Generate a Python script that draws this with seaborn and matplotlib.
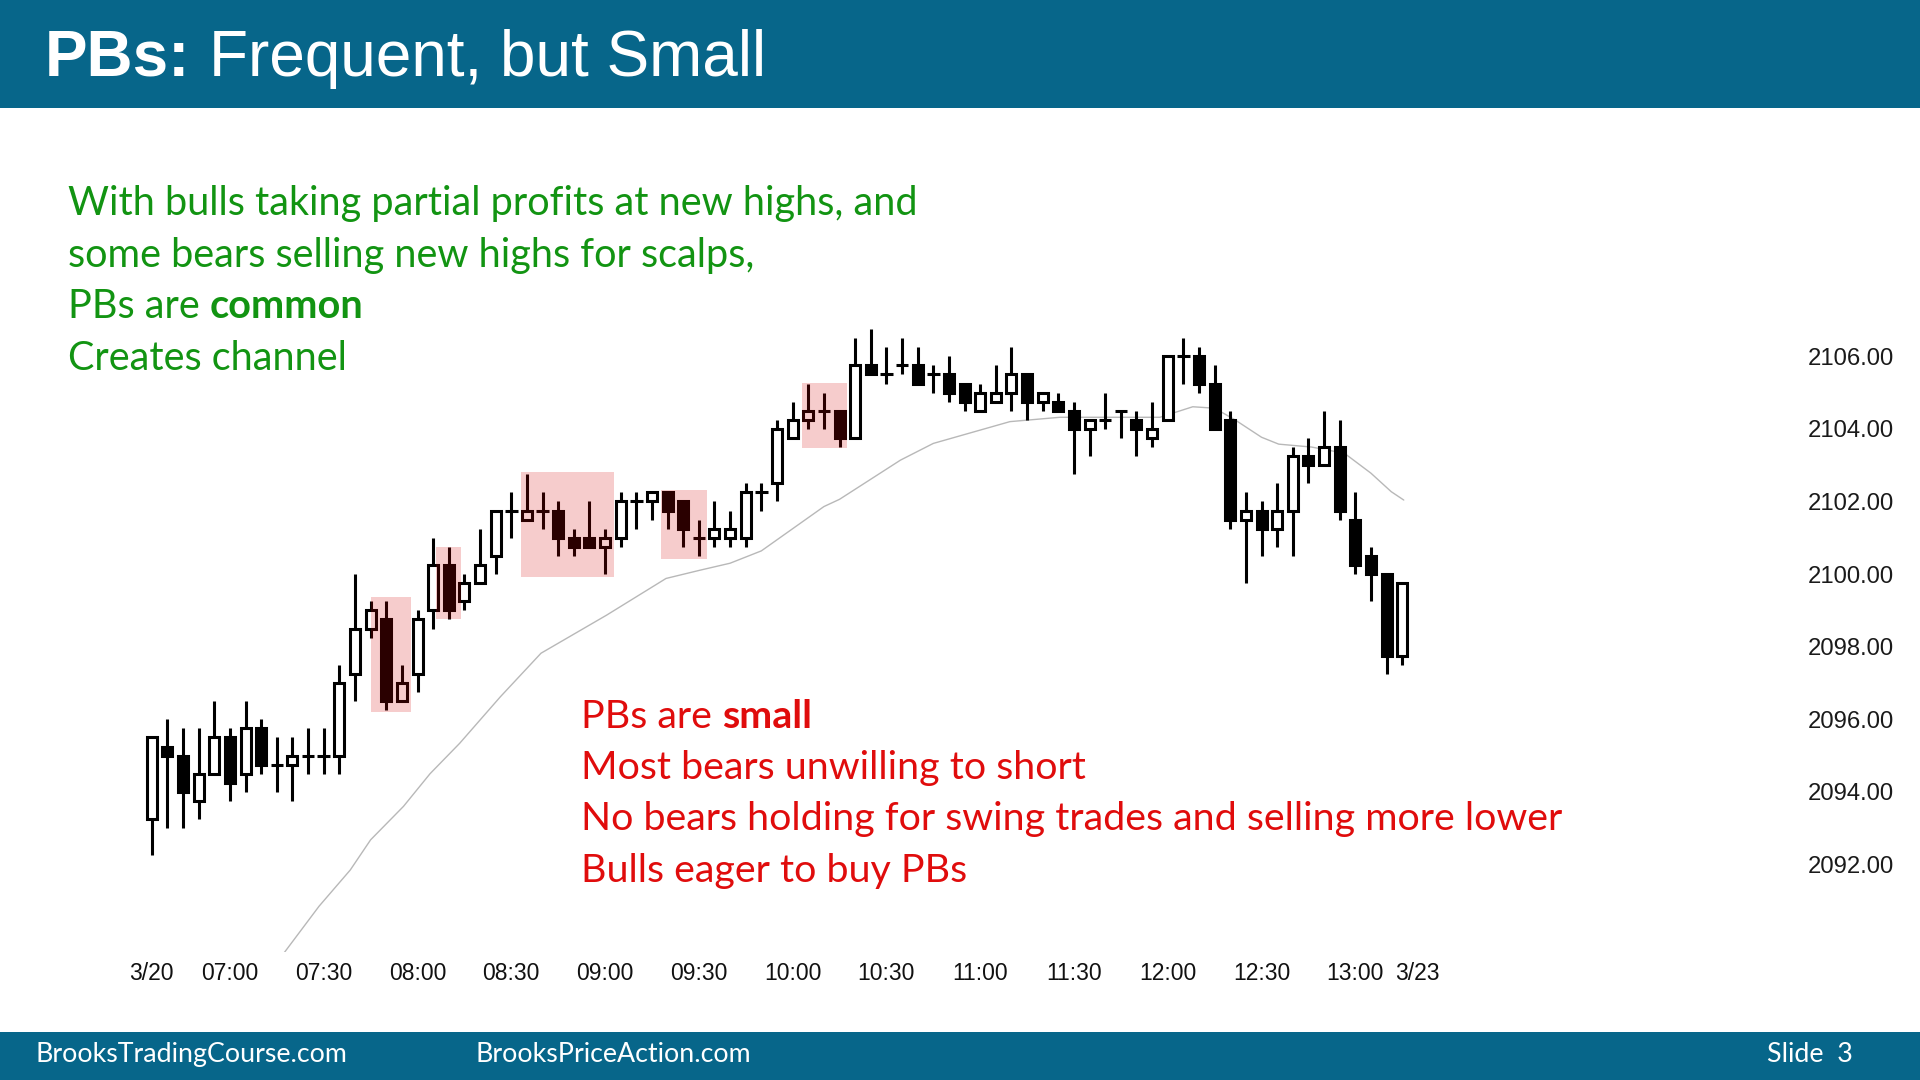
import matplotlib
matplotlib.use("Agg")
import matplotlib.pyplot as plt
from matplotlib.patches import Rectangle
import seaborn as sns
import numpy as np

# ---------------- data ----------------
opens = [2093.25, 2095.25, 2095.0, 2093.75, 2094.5, 2095.5, 2094.5, 2095.75, 2094.75, 2094.75,
         2095.0, 2095.0, 2095.0, 2097.25, 2098.5, 2098.75, 2096.5, 2097.25, 2099.0, 2100.25,
         2099.25, 2099.75, 2100.5, 2101.75, 2101.5, 2101.75, 2101.75, 2101.0, 2101.0, 2100.75,
         2101.0, 2102.0, 2102.0, 2102.25, 2102.0, 2101.0, 2101.0, 2101.0, 2101.0, 2102.25,
         2102.5, 2103.75, 2104.25, 2104.5, 2104.5, 2103.75, 2105.75, 2105.5, 2105.75, 2105.75,
         2105.5, 2105.5, 2105.25, 2104.5, 2104.75, 2105.0, 2105.5, 2104.75, 2104.75, 2104.5,
         2104.0, 2104.25, 2104.5, 2104.25, 2103.75, 2104.25, 2106.0, 2106.0, 2105.25, 2104.25,
         2101.5, 2101.75, 2101.25, 2101.75, 2103.25, 2103.0, 2103.5, 2101.5, 2100.5, 2100.0,
         2097.75]
highs = [2095.5, 2096.0, 2095.75, 2095.75, 2096.5, 2095.75, 2096.5, 2096.0, 2095.5, 2095.5,
         2095.75, 2095.75, 2097.5, 2100.0, 2099.25, 2099.25, 2097.5, 2099.0, 2101.0, 2100.75,
         2100.0, 2101.25, 2101.75, 2102.25, 2102.75, 2102.25, 2102.0, 2101.25, 2102.0, 2101.25,
         2102.25, 2102.25, 2102.25, 2102.25, 2102.0, 2101.5, 2102.0, 2101.75, 2102.5, 2102.5,
         2104.25, 2104.75, 2105.25, 2105.0, 2104.5, 2106.5, 2106.75, 2106.25, 2106.5, 2106.25,
         2105.75, 2106.0, 2105.25, 2105.25, 2105.75, 2106.25, 2105.5, 2105.0, 2105.0, 2104.75,
         2104.25, 2105.0, 2104.5, 2104.5, 2104.75, 2106.0, 2106.5, 2106.25, 2105.75, 2104.5,
         2102.25, 2102.0, 2102.5, 2103.5, 2103.75, 2104.5, 2104.25, 2102.25, 2100.75, 2100.0,
         2099.75]
lows = [2092.25, 2093.0, 2093.0, 2093.25, 2094.5, 2093.75, 2094.0, 2094.5, 2094.0, 2093.75,
        2094.5, 2094.5, 2094.5, 2096.5, 2098.25, 2096.25, 2096.5, 2096.75, 2098.5, 2098.75,
        2099.0, 2099.75, 2100.0, 2101.0, 2101.5, 2101.25, 2100.5, 2100.5, 2100.75, 2100.0,
        2100.75, 2101.25, 2101.5, 2101.25, 2100.75, 2100.5, 2100.75, 2100.75, 2100.75, 2101.75,
        2102.0, 2103.75, 2104.0, 2104.0, 2103.5, 2103.75, 2105.5, 2105.25, 2105.5, 2105.25,
        2105.0, 2104.75, 2104.5, 2104.5, 2104.75, 2104.5, 2104.25, 2104.5, 2104.5, 2102.75,
        2103.25, 2104.0, 2103.75, 2103.25, 2103.5, 2104.25, 2105.25, 2105.0, 2104.0, 2101.25,
        2099.75, 2100.5, 2100.75, 2100.5, 2102.5, 2103.0, 2101.5, 2100.0, 2099.25, 2097.25,
        2097.5]
closes = [2095.5, 2095.0, 2094.0, 2094.5, 2095.5, 2094.25, 2095.75, 2094.75, 2094.75, 2095.0,
          2095.0, 2095.0, 2097.0, 2098.5, 2099.0, 2096.5, 2097.0, 2098.75, 2100.25, 2099.0,
          2099.75, 2100.25, 2101.75, 2101.75, 2101.75, 2101.75, 2101.0, 2100.75, 2100.75, 2101.0,
          2102.0, 2102.0, 2102.25, 2101.75, 2101.25, 2101.0, 2101.25, 2101.25, 2102.25, 2102.25,
          2104.0, 2104.25, 2104.5, 2104.5, 2103.75, 2105.75, 2105.5, 2105.5, 2105.75, 2105.25,
          2105.5, 2105.0, 2104.75, 2105.0, 2105.0, 2105.5, 2104.75, 2105.0, 2104.5, 2104.0,
          2104.25, 2104.25, 2104.5, 2104.0, 2104.0, 2106.0, 2106.0, 2105.25, 2104.0, 2101.5,
          2101.75, 2101.25, 2101.75, 2103.25, 2103.0, 2103.5, 2101.75, 2100.25, 2100.0, 2097.75,
          2099.75]

# moving average, read as (bar position, price) points
ema_bar = [8.0, 10.7, 12.7, 14.0, 16.1, 17.8, 19.7, 22.3, 24.9, 29.1, 32.9, 35.1, 37.0, 39.0,
           43.0, 44.0, 47.9, 50.0, 54.9, 58.1, 64.5, 66.6, 68.0, 69.3, 71.0, 72.1, 74.2, 76.3,
           78.0, 79.3, 80.1]
ema_val = [2089.3, 2090.85, 2091.85, 2092.68, 2093.6, 2094.5, 2095.34, 2096.62, 2097.82,
           2098.87, 2099.88, 2100.11, 2100.30, 2100.64, 2101.86, 2102.06, 2103.14, 2103.6,
           2104.2, 2104.32, 2104.32, 2104.61, 2104.57, 2104.25, 2103.77, 2103.58, 2103.5,
           2103.33, 2102.78, 2102.27, 2102.04]

# highlighted pullbacks: (first bar, last bar, low price, high price)
pb_x0 = [14.0, 18.2, 23.6, 32.6, 41.6]
pb_x1 = [16.6, 19.8, 29.6, 35.5, 44.5]
pb_lo = [2096.2, 2098.75, 2099.93, 2100.41, 2103.47]
pb_hi = [2099.38, 2100.75, 2102.8, 2102.32, 2105.26]

xtick_pos = [0, 5, 11, 17, 23, 29, 35, 41, 47, 53, 59, 65, 71, 77, 81]
xtick_lab = ["3/20", "07:00", "07:30", "08:00", "08:30", "09:00", "09:30", "10:00",
             "10:30", "11:00", "11:30", "12:00", "12:30", "13:00", "3/23"]
ytick_vals = [2092, 2094, 2096, 2098, 2100, 2102, 2104, 2106]

title_bold = "PBs:"
title_rest = "Frequent, but Small"
green_lines = ["With bulls taking partial profits at new highs, and",
               "some bears selling new highs for scalps,",
               ("PBs are", "common"),
               "Creates channel"]
red_lines = [("PBs are", "small"),
             "Most bears unwilling to short",
             "No bears holding for swing trades and selling more lower",
             "Bulls eager to buy PBs"]
footer_left = "BrooksTradingCourse.com"
footer_mid = "BrooksPriceAction.com"
footer_right = "Slide  3"

# ---------------- styling ----------------
sns.set_theme(style="white")
plt.rcParams["font.family"] = ["Liberation Sans", "DejaVu Sans"]

W, H = 1920, 1080
fig = plt.figure(figsize=(19.2, 10.8), dpi=100)
fig.patch.set_facecolor("white")
renderer = fig.canvas.get_renderer()

def fx(px):
    return px / W

def fy(py):
    return 1 - py / H

BAND = "#07668a"
GREEN = "#129412"
RED = "#e00c0c"
CAL = ["Lato", "DejaVu Sans"]

# header / footer bands
fig.add_artist(Rectangle((0, fy(108)), 1, 108 / H, transform=fig.transFigure,
                         facecolor=BAND, edgecolor="none", zorder=0))
fig.add_artist(Rectangle((0, 0), 1, (H - 1032) / H, transform=fig.transFigure,
                         facecolor=BAND, edgecolor="none", zorder=0))

# ---------------- chart axes ----------------
X0PX, DXPX = 151.8, 15.63     # pixel of bar 0, pixels per bar
Y0PX, DYPX = 356.3, 36.3      # pixel of price 2106, pixels per point
AX_L, AX_R, AX_T, AX_B = 0, 1800, 110, 952
ax = fig.add_axes([fx(AX_L), fy(AX_B), (AX_R - AX_L) / W, (AX_B - AX_T) / H])
ax.patch.set_alpha(0)
ax.set_xlim((AX_L - X0PX) / DXPX, (AX_R - X0PX) / DXPX)
ax.set_ylim(2106 - (AX_B - Y0PX) / DYPX, 2106 + (Y0PX - AX_T) / DYPX)
for s in ax.spines.values():
    s.set_visible(False)

n = len(opens)
idx = np.arange(n)
o = np.array(opens); h = np.array(highs); l = np.array(lows); c = np.array(closes)

LW = 2.2
# moving average
sns.lineplot(x=ema_bar, y=ema_val, ax=ax, color="#b8b8b8", linewidth=1.0, zorder=1,
             estimator=None, sort=False)

# wicks
ax.vlines(idx, l, h, color="black", linewidth=LW, zorder=2)
# bodies
body_w = 0.64
bull = c > o
bear = c < o
doji = c == o
ax.bar(idx[bull], (c - o)[bull], bottom=o[bull], width=body_w, facecolor="white",
       edgecolor="black", linewidth=LW, zorder=3)
ax.bar(idx[bear], (o - c)[bear], bottom=c[bear], width=body_w, facecolor="black",
       edgecolor="black", linewidth=LW, zorder=3)
ax.hlines(o[doji], idx[doji] - body_w / 2 - 0.08, idx[doji] + body_w / 2 + 0.08,
          color="black", linewidth=LW, zorder=3)

# pullback highlights
for a0, a1, lo, hi in zip(pb_x0, pb_x1, pb_lo, pb_hi):
    ax.add_patch(Rectangle((a0, lo), a1 - a0, hi - lo, facecolor=(0.84, 0.0, 0.0),
                           alpha=0.2, edgecolor="none", zorder=4))

ax.set_xticks(xtick_pos)
ax.set_xticklabels(xtick_lab)
ax.set_yticks(ytick_vals)
ax.set_yticklabels([f"{v:.2f}" for v in ytick_vals])
ax.yaxis.tick_right()
ax.tick_params(axis="both", length=0)
ax.tick_params(axis="x", pad=7.5, labelcolor="#111111", labelsize=16.5)
ax.tick_params(axis="y", pad=5.5, labelcolor="#1a1a1a", labelsize=17.2)
ax.grid(False)
ax.set_xlabel("")
ax.set_ylabel("")

# ---------------- text helpers ----------------
def width_of(t):
    return t.get_window_extent(renderer=renderer).width

def fit_size(s, target, **kw):
    t = fig.text(0, 0, s, fontsize=20, **kw)
    w = width_of(t)
    t.remove()
    return 20 * target / w

def space_w(size, **kw):
    a = fig.text(0, 0, "n n", fontsize=size, **kw)
    b = fig.text(0, 0, "nn", fontsize=size, **kw)
    w = width_of(a) - width_of(b)
    a.remove(); b.remove()
    return w

def put_line(x, y, item, size, color, family):
    if isinstance(item, tuple):
        reg, bold = item
        t = fig.text(fx(x), fy(y), reg, fontsize=size, color=color, family=family,
                     va="baseline", ha="left")
        w = width_of(t) + space_w(size, family=family)
        fig.text(fx(x + w), fy(y), bold, fontsize=size, color=color, family=family,
                 fontweight="bold", va="baseline", ha="left")
    else:
        fig.text(fx(x), fy(y), item, fontsize=size, color=color, family=family,
                 va="baseline", ha="left")

# title
ts = fit_size(title_rest, 556, family=["Liberation Sans"])
fig.text(fx(45), fy(76), title_bold, fontsize=ts, color="white", fontweight="bold",
         family=["Liberation Sans"], va="baseline")
fig.text(fx(209), fy(76), title_rest, fontsize=ts, color="white",
         family=["Liberation Sans"], va="baseline")

# green block
gs = fit_size(green_lines[0], 852, family=CAL)
for k, item in enumerate(green_lines):
    put_line(68, 215.5 + 51.4 * k, item, gs, GREEN, CAL)

# red block
rs = fit_size(red_lines[2], 985, family=CAL)
for k, item in enumerate(red_lines):
    put_line(581, 727.5 + 51.4 * k, item, rs, RED, CAL)

# footer
fs = fit_size(footer_left, 311, family=CAL)
fig.text(fx(36), fy(1062), footer_left, fontsize=fs, color="white", family=CAL, va="baseline")
fig.text(fx(475), fy(1062), footer_mid, fontsize=fs, color="white", family=CAL, va="baseline")
fig.text(fx(1767), fy(1062), footer_right, fontsize=fs, color="white", family=CAL, va="baseline")

fig.savefig("out.png", dpi=100, facecolor="white")
